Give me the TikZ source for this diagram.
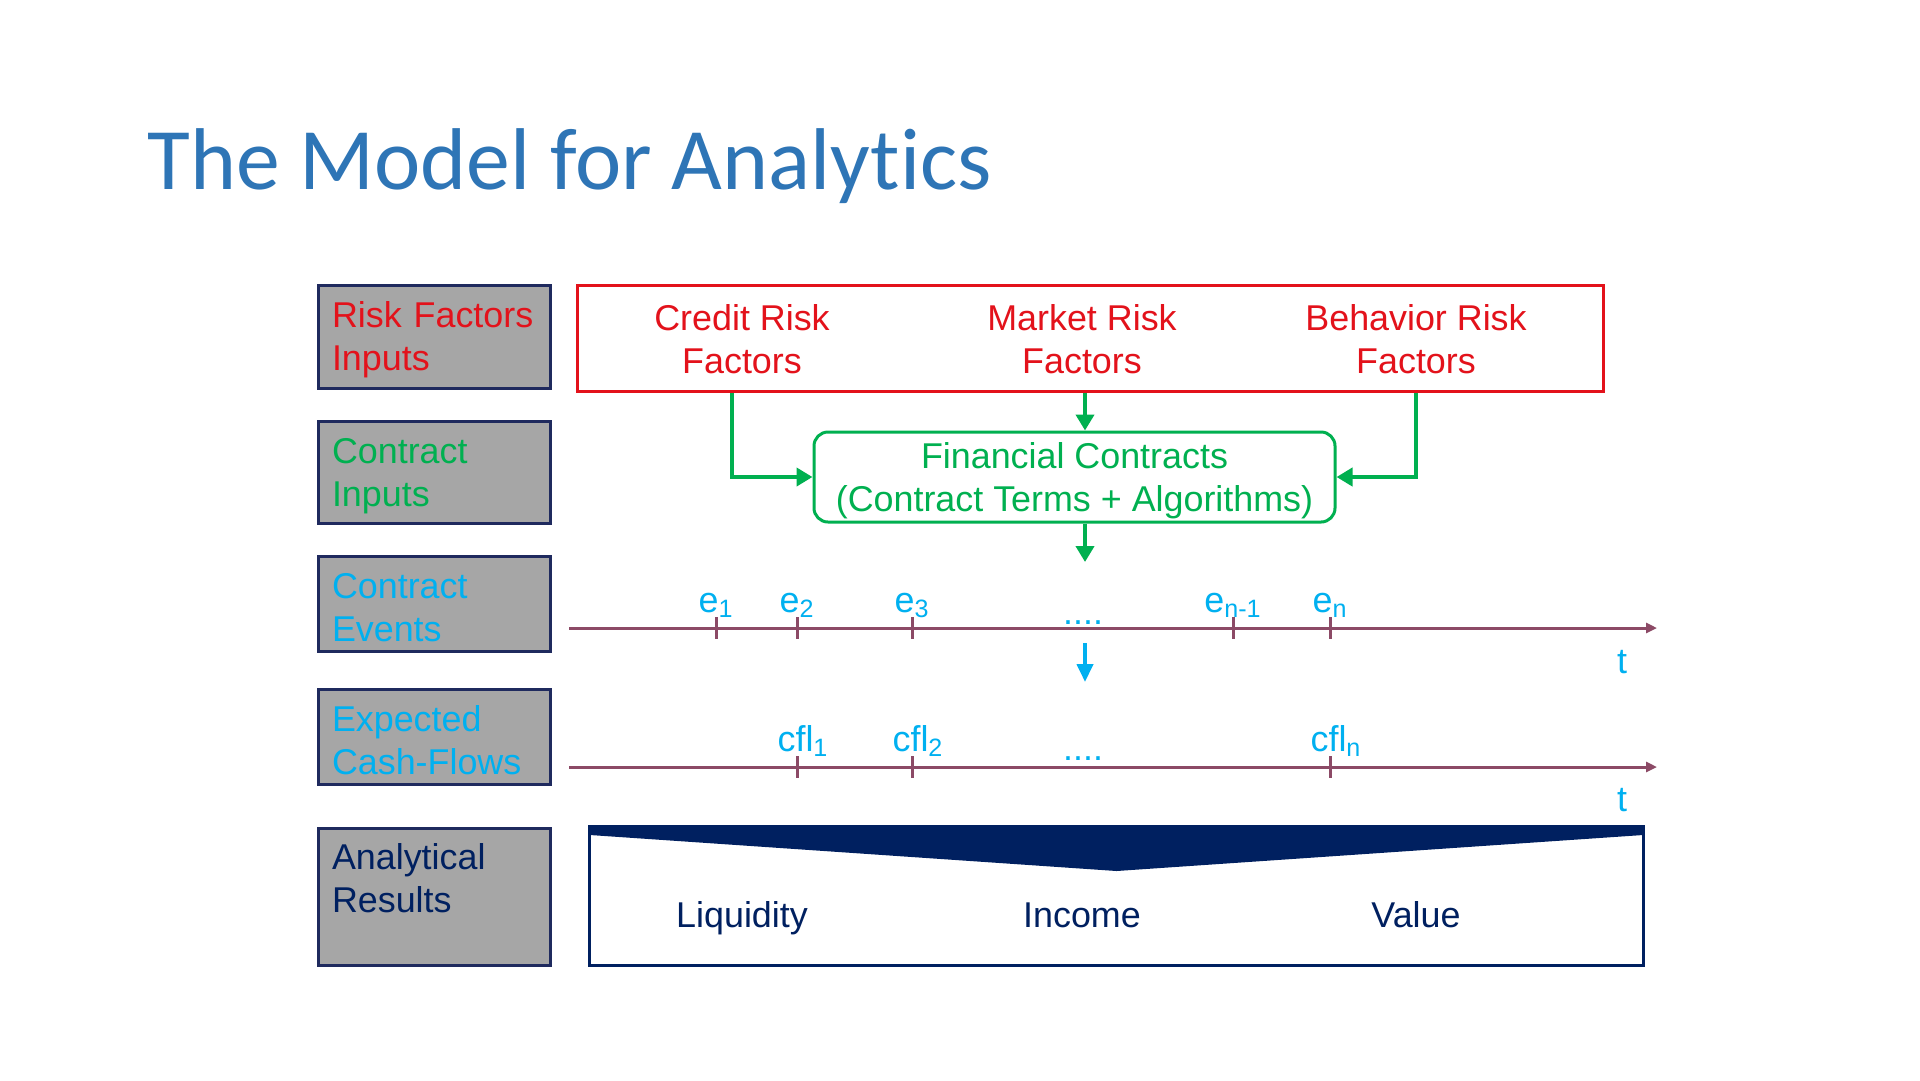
\documentclass[tikz,border=0pt]{standalone}
\usepackage{fontspec}
\setmainfont{Liberation Sans}[Ligatures=NoCommon]
\newfontfamily\titlefont{Carlito}[Ligatures=NoCommon]
\usepackage{tikz}
\usetikzlibrary{arrows.meta, positioning, calc}
\usepackage{xcolor}
\definecolor{titleblue}{HTML}{2E75B6}
\definecolor{riskred}{HTML}{E3121B}
\definecolor{contractgreen}{HTML}{00B050}
\definecolor{eventcyan}{HTML}{00B0F0}
\definecolor{resultnavy}{HTML}{002060}
\definecolor{boxnavy}{HTML}{1F2A5E}
\definecolor{labelgray}{HTML}{A6A6A6}
\definecolor{axismauve}{HTML}{8C4A66}
\tikzset{
  rowbox/.style={
    rectangle, draw=boxnavy, line width=1.5bp, fill=labelgray,
    text=#1, text width=102bp, inner xsep=7bp, align=left,
    text height=16bp, font=\fontsize{18}{21.6}\selectfont
  },
  slidetext/.style={
    text=#1, align=center, inner sep=0pt,
    font=\fontsize{18}{21.6}\selectfont
  },
  garrow/.style={
    -{Triangle[length=8bp, width=9bp]}, line width=2bp, draw=contractgreen
  },
  carrow/.style={
    -{Triangle[length=9bp, width=8bp]}, line width=2bp, draw=eventcyan
  },
  timeaxis/.style={
    -{Triangle[length=5.5bp, width=5bp]}, line width=1.5bp, draw=axismauve
  },
  tickmark/.style={line width=1.5bp, draw=axismauve}
}

\begin{document}
\begin{tikzpicture}[x=0.5bp, y=-0.5bp]
  \path[use as bounding box, fill=white] (0,0) rectangle (1920,1080);
  \node[anchor=base west, inner sep=0pt, text=titleblue,
        font=\titlefont\fontsize{44}{52}\selectfont] (title) at (147,189)
    {The Model for Analytics};

  \node[rowbox=riskred, minimum height=51.5bp] (rfi) at (434,336.5)
    {Risk Factors\\Inputs};
  \node[rowbox=contractgreen, minimum height=50.9bp,
        below=15.3bp of rfi] (ci) {Contract\\Inputs};
  \node[rowbox=eventcyan, minimum height=47.9bp,
        below=14.8bp of ci] (ce) {Contract\\Events};
  \node[rowbox=eventcyan, minimum height=47.4bp,
        below=17.4bp of ce] (ecf) {Expected\\Cash-Flows};
  \node[rowbox=resultnavy, text height=, minimum height=68.3bp,
        below=20.5bp of ecf] (ar)
    {\parbox[c][53bp][t]{102bp}{Analytical\\Results}};

  \node[draw=riskred, line width=1.5bp, minimum width=512.5bp,
        minimum height=53bp] (riskbox) at (1090.5,338) {};
  \node[slidetext=riskred] (crf) at (742,339) {Credit Risk\\Factors};
  \node[slidetext=riskred] (mrf) at (1082,339) {Market Risk\\Factors};
  \node[slidetext=riskred] (brf) at (1416,339) {Behavior Risk\\Factors};

  \node[slidetext=contractgreen, draw=contractgreen, line width=1.5bp,
        rounded corners=7bp, minimum width=260.5bp, minimum height=45bp,
        text depth=0pt] (fin) at (1074.5,477)
    {Financial Contracts\\(Contract Terms + Algorithms)};

  \coordinate (crfx) at ([xshift=-5bp]crf.south);
  \coordinate (evtop) at (1085,562);
  \coordinate (evbot) at (1085,643);
  \coordinate (cfltop) at (1085,682);
  \draw[garrow] (crfx |- riskbox.south) |- (fin.west);
  \draw[garrow] (evtop |- riskbox.south) -- (evtop |- fin.north);
  \draw[garrow] (brf |- riskbox.south) |- (fin.east);
  \draw[garrow] (evtop |- fin.south) -- (evtop);
  \draw[carrow] (evbot) -- (cfltop);

  \coordinate (ev-start) at (569,628);
  \coordinate (ev-end) at (1657,628);
  \draw[timeaxis] (ev-start) -- (ev-end);
  \foreach \x/\s [count=\i] in {716/1, 797/2, 912/3, 1233/{n-1}, 1330/n}{%
    \draw[tickmark] (\x,617) -- (\x,639);
    \node[slidetext=eventcyan, anchor=base] (ev\i) at (\x,612)
      {e\textsubscript{\s}};}
  \node[slidetext=eventcyan, anchor=base] (evdots) at (1083,624) {....};
  \node[slidetext=eventcyan, anchor=base] (evt) at (1622,673) {t};

  \coordinate (cf-start) at (569,767);
  \coordinate (cf-end) at (1657,767);
  \draw[timeaxis] (cf-start) -- (cf-end);
  \foreach \x/\s [count=\i] in {797/1, 912/2, 1330/n}{%
    \draw[tickmark] (\x,756) -- (\x,778);
    \node[slidetext=eventcyan, anchor=base] (cf\i) at (\x+6,751)
      {cfl\textsubscript{\s}};}
  \node[slidetext=eventcyan, anchor=base] (cfdots) at (1083,760) {....};
  \node[slidetext=eventcyan, anchor=base] (cft) at (1622,811) {t};

  \node[draw=resultnavy, line width=1.5bp, outer sep=0pt,
        minimum width=526.5bp, minimum height=69.5bp] (res)
        at (1116.5,895.5) {};
  \fill[resultnavy] (res.north west) -- (res.north east)
    -- ([yshift=-4.5bp]res.north east) -- ([yshift=-22.5bp]res.north)
    -- ([yshift=-4.5bp]res.north west) -- cycle;
  \node[slidetext=resultnavy, anchor=base] (liq) at (742,927) {Liquidity};
  \node[slidetext=resultnavy, anchor=base] (inc) at (1082,927) {Income};
  \node[slidetext=resultnavy, anchor=base] (val) at (1416,927) {Value};
\end{tikzpicture}
\end{document}
